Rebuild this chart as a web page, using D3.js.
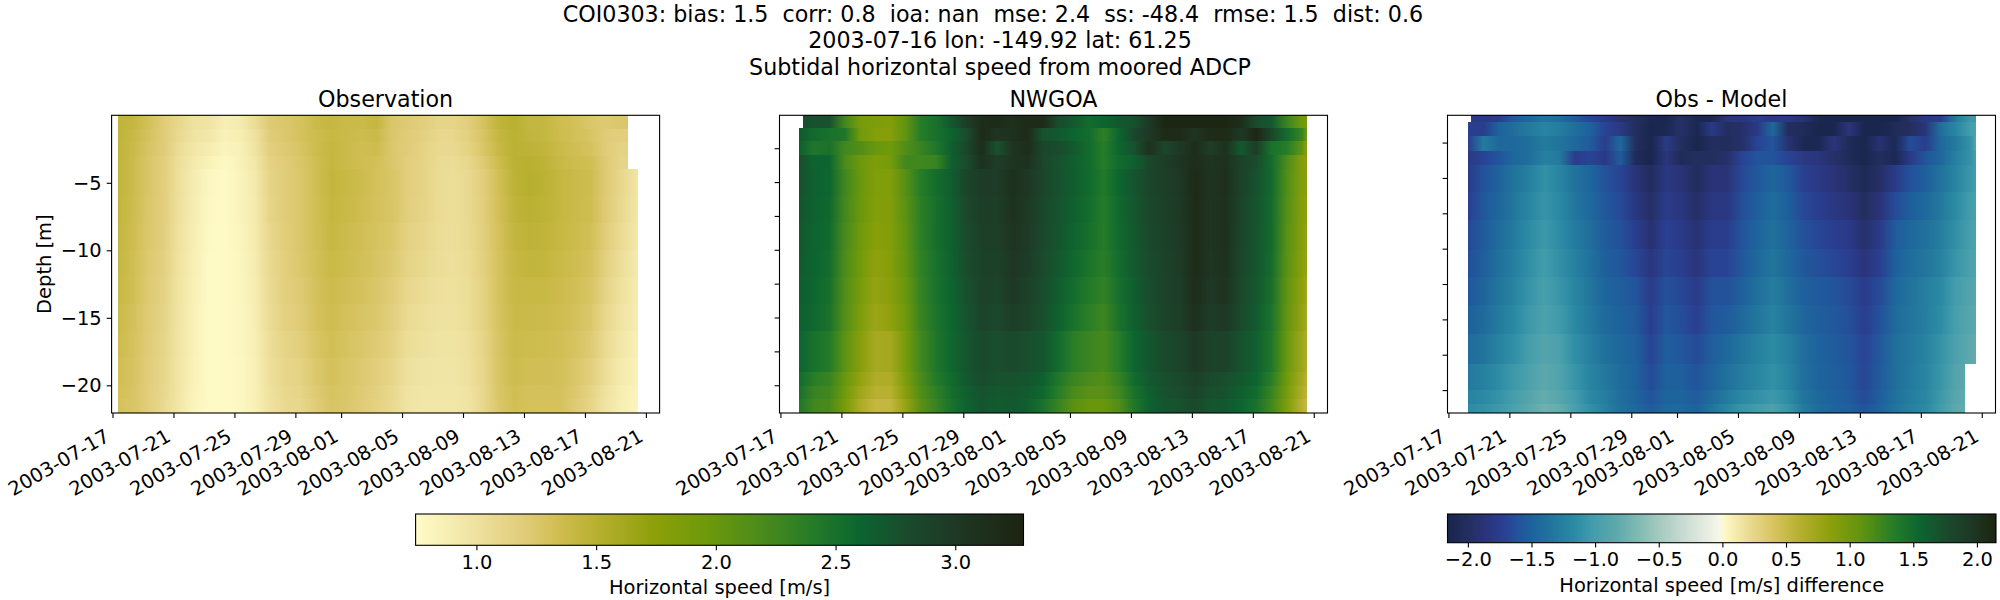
<!DOCTYPE html>
<html><head><meta charset="utf-8"><script src="https://cdn.jsdelivr.net/npm/d3@7"></script>
<style>html,body{margin:0;padding:0;background:#fff}text{font-family:"DejaVu Sans",sans-serif;fill:#000;white-space:pre}</style></head>
<body><svg id="c" width="2000" height="600"></svg>
<script>
const suptitleLines = ["COI0303: bias: 1.5  corr: 0.8  ioa: nan  mse: 2.4  ss: -48.4  rmse: 1.5  dist: 0.6  ","2003-07-16 lon: -149.92 lat: 61.25","Subtidal horizontal speed from moored ADCP"];
const panelTitles = ["Observation","NWGOA","Obs - Model"];
const dateTicks = ["2003-07-17","2003-07-21","2003-07-25","2003-07-29","2003-08-01","2003-08-05","2003-08-09","2003-08-13","2003-08-17","2003-08-21"];
const depthTicks = [-5,-10,-15,-20];
const depthTicksFine = [-2.5,-5,-7.5,-10,-12.5,-15,-17.5,-20];
const speedTicks = [1.0,1.5,2.0,2.5,3.0];
const diffTicks = [-2,-1.5,-1,-0.5,0,0.5,1,1.5,2];

// time of each column: days since 2003-07-17
const obsTimes = [0.35,1.35,2.35,3.35,4.35,5.35,6.35,7.35,8.35,9.35,10.35,11.35,12.35,13.35,14.35,15.35,16.35,17.35,18.35,19.35,20.35,21.35,22.35,23.35,24.35,25.35,26.35,27.35,28.35,29.35,30.35,31.35,32.35,33.35,34.35,34.5];
const modelTimes = [1.22,2.22,3.22,4.22,5.22,6.22,7.22,8.22,9.22,10.22,11.22,12.22,13.22,14.22,15.22,16.22,17.22,18.22,19.22,20.22,21.22,22.22,23.22,24.22,25.22,26.22,27.22,28.22,29.22,30.22,31.22,32.22,33.22,34.22,34.55];
const diffTimes = [1.29,2.29,3.29,4.29,5.29,6.29,7.29,8.29,9.29,10.29,11.29,12.29,13.29,14.29,15.29,16.29,17.29,18.29,19.29,20.29,21.29,22.29,23.29,24.29,25.29,26.29,27.29,28.29,29.29,30.29,31.29,32.29,33.29,34.29,34.6];

// depth bands (top,bottom) in m and the time extent of each band
const obsBands = [[0,1],[1,2],[2,3],[3,4],[4,6],[6,8],[8,10],[10,12],[12,14],[14,16],[16,18],[18,20],[20,21],[21,22.05]];
const obsExtent = [[0.35,33.8],[0.35,33.8],[0.35,33.8],[0.35,33.8],[0.35,34.5],[0.35,34.5],[0.35,34.5],[0.35,34.5],[0.35,34.5],[0.35,34.5],[0.35,34.5],[0.35,34.5],[0.35,34.5],[0.35,34.5]];
const modelBands = [[0,1.03],[1.03,2],[2,3.03],[3.03,4],[4,6],[6,8],[8,10],[10,12],[12,14],[14,16],[16,19.05],[19.05,20.05],[20.05,21.05],[21.05,22.05]];
const modelExtent = [[1.48,34.55],[1.22,34.55],[1.22,34.55],[1.22,34.55],[1.22,34.55],[1.22,34.55],[1.22,34.55],[1.22,34.55],[1.22,34.55],[1.22,34.55],[1.22,34.55],[1.22,34.55],[1.22,34.55],[1.22,34.55]];
const diffBands = [[0.57,1.07],[1.07,2.05],[2.05,3.08],[3.08,4.07],[4.07,6],[6,8],[8,10],[10,12],[12,14],[14,16],[16,18.13],[18.13,20],[20,21],[21,21.62]];
const diffExtent = [[1.49,34.6],[1.29,34.6],[1.29,34.6],[1.29,34.6],[1.29,34.6],[1.29,34.6],[1.29,34.6],[1.29,34.6],[1.29,34.6],[1.29,34.6],[1.29,34.6],[1.29,33.9],[1.29,33.9],[1.29,33.9]];

const obsSpeed = [
[1.45,1.42,1.32,1.2,1.1,1.0,0.98,0.88,0.9,1.05,1.22,1.25,1.3,1.38,1.42,1.38,1.38,1.42,1.25,1.22,1.18,1.12,1.12,1.18,1.3,1.45,1.5,1.42,1.42,1.35,1.32,1.25,1.22,1.25,1.25,1.25],
[1.45,1.4,1.3,1.2,1.08,0.98,0.95,0.85,0.88,1.0,1.2,1.24,1.3,1.36,1.4,1.38,1.36,1.38,1.25,1.2,1.16,1.1,1.1,1.16,1.28,1.42,1.48,1.44,1.42,1.36,1.32,1.28,1.2,1.18,1.18,1.18],
[1.45,1.38,1.28,1.2,1.05,0.95,0.9,0.82,0.85,0.98,1.18,1.22,1.28,1.36,1.42,1.38,1.34,1.36,1.24,1.2,1.14,1.08,1.08,1.14,1.26,1.4,1.48,1.46,1.44,1.38,1.34,1.3,1.2,1.14,1.14,1.14],
[1.45,1.37,1.26,1.18,1.03,0.92,0.84,0.78,0.84,0.95,1.15,1.2,1.26,1.34,1.42,1.38,1.34,1.32,1.25,1.18,1.14,1.07,1.05,1.1,1.22,1.36,1.48,1.5,1.46,1.4,1.36,1.34,1.22,1.12,1.12,1.12],
[1.45,1.37,1.26,1.18,1.02,0.9,0.79,0.76,0.82,0.93,1.13,1.2,1.25,1.34,1.43,1.4,1.36,1.31,1.27,1.18,1.14,1.06,1.04,1.08,1.19,1.33,1.47,1.51,1.48,1.42,1.38,1.36,1.22,1.1,0.98,0.96],
[1.44,1.36,1.25,1.18,1.01,0.89,0.78,0.76,0.82,0.92,1.12,1.2,1.25,1.33,1.42,1.39,1.35,1.3,1.27,1.17,1.13,1.06,1.04,1.08,1.18,1.32,1.45,1.49,1.47,1.42,1.38,1.35,1.21,1.09,0.97,0.95],
[1.43,1.35,1.24,1.17,1.0,0.88,0.77,0.76,0.81,0.91,1.1,1.19,1.25,1.33,1.41,1.37,1.33,1.29,1.25,1.15,1.11,1.05,1.03,1.07,1.17,1.31,1.43,1.46,1.45,1.41,1.37,1.33,1.19,1.07,0.95,0.93],
[1.42,1.34,1.23,1.16,0.99,0.87,0.76,0.76,0.8,0.9,1.08,1.18,1.24,1.32,1.39,1.36,1.32,1.28,1.23,1.13,1.09,1.04,1.02,1.06,1.16,1.3,1.41,1.44,1.43,1.39,1.35,1.31,1.16,1.04,0.93,0.91],
[1.41,1.33,1.22,1.15,0.98,0.86,0.76,0.76,0.8,0.89,1.07,1.17,1.22,1.31,1.37,1.33,1.3,1.26,1.2,1.1,1.06,1.02,1.01,1.05,1.15,1.3,1.4,1.41,1.4,1.37,1.33,1.28,1.13,1.01,0.91,0.89],
[1.39,1.31,1.21,1.13,0.97,0.85,0.76,0.76,0.79,0.88,1.06,1.16,1.2,1.3,1.35,1.31,1.28,1.24,1.17,1.07,1.03,1.0,1.0,1.04,1.14,1.29,1.38,1.38,1.37,1.35,1.31,1.25,1.1,0.98,0.9,0.88],
[1.37,1.3,1.2,1.12,0.97,0.85,0.76,0.76,0.79,0.87,1.04,1.13,1.17,1.27,1.33,1.29,1.25,1.21,1.15,1.04,1.01,0.98,0.98,1.02,1.12,1.28,1.37,1.36,1.35,1.33,1.29,1.22,1.07,0.95,0.87,0.86],
[1.34,1.29,1.19,1.11,0.96,0.84,0.76,0.76,0.78,0.86,1.03,1.11,1.14,1.24,1.31,1.27,1.23,1.18,1.12,1.01,0.98,0.97,0.97,1.01,1.11,1.27,1.36,1.33,1.33,1.32,1.26,1.18,1.04,0.92,0.85,0.83],
[1.32,1.28,1.18,1.1,0.96,0.83,0.76,0.76,0.78,0.86,1.01,1.09,1.12,1.22,1.29,1.26,1.21,1.16,1.09,0.99,0.96,0.96,0.96,0.99,1.1,1.26,1.34,1.31,1.31,1.31,1.24,1.14,1.0,0.89,0.83,0.81],
[1.3,1.27,1.18,1.08,0.95,0.82,0.76,0.76,0.78,0.86,1.0,1.08,1.1,1.2,1.28,1.25,1.2,1.15,1.08,0.98,0.95,0.95,0.95,0.98,1.1,1.25,1.33,1.3,1.3,1.3,1.22,1.12,0.98,0.88,0.82,0.8]];

const modelSpeed = [
[2.8,2.75,2.75,2.25,1.9,1.85,1.82,2.05,2.4,2.5,2.7,2.95,3.15,3.2,3.1,3.2,3.2,2.8,2.7,2.55,2.6,2.7,2.75,3.0,3.25,3.25,3.25,3.25,3.25,3.15,2.8,2.7,2.3,1.95,1.9],
[2.7,2.55,2.5,2.45,1.95,1.8,1.8,2.05,2.4,2.5,2.6,2.8,3.2,3.05,3.1,3.2,2.75,2.7,2.6,2.55,2.35,2.6,2.85,3.0,3.2,3.2,3.05,3.2,3.2,3.0,3.25,2.85,2.55,2.3,1.95],
[2.65,2.45,2.5,2.25,2.15,2.0,1.95,2.15,2.3,2.45,2.65,2.85,3.15,2.75,3.05,3.15,2.85,2.8,2.7,2.55,2.4,2.6,2.75,3.1,2.85,3.0,3.15,2.95,3.1,2.7,2.95,2.5,2.4,2.05,1.75],
[2.8,2.6,2.6,2.2,1.98,1.85,1.9,2.25,2.25,2.3,2.65,2.8,3.1,2.95,3.05,3.1,2.85,2.75,2.65,2.55,2.4,2.55,2.65,2.85,2.95,3.05,3.15,3.05,3.1,2.9,2.8,2.55,2.2,1.8,1.75],
[2.76,2.63,2.59,2.26,2.0,1.83,1.83,2.12,2.4,2.53,2.66,2.87,2.97,2.97,3.11,3.01,2.86,2.76,2.66,2.56,2.43,2.59,2.73,2.86,2.93,3.01,3.2,3.06,3.13,2.89,2.76,2.56,2.16,1.81,1.76],
[2.74,2.62,2.57,2.24,1.99,1.81,1.82,2.09,2.37,2.51,2.64,2.84,2.95,2.94,3.09,2.99,2.84,2.74,2.64,2.54,2.41,2.57,2.71,2.84,2.92,2.99,3.2,3.05,3.12,2.87,2.74,2.55,2.14,1.8,1.74],
[2.71,2.61,2.56,2.21,1.96,1.77,1.82,2.06,2.36,2.51,2.63,2.81,2.93,2.93,3.06,2.98,2.83,2.73,2.61,2.51,2.41,2.56,2.7,2.83,2.91,2.98,3.2,3.05,3.12,2.86,2.73,2.55,2.11,1.79,1.71],
[2.69,2.6,2.54,2.19,1.94,1.73,1.8,2.04,2.34,2.5,2.62,2.79,2.91,2.91,3.03,2.96,2.81,2.71,2.58,2.48,2.38,2.54,2.69,2.81,2.9,2.97,3.19,3.03,3.1,2.85,2.72,2.54,2.09,1.77,1.69],
[2.66,2.59,2.51,2.16,1.9,1.7,1.77,2.0,2.32,2.49,2.61,2.76,2.89,2.87,3.0,2.92,2.79,2.67,2.54,2.43,2.33,2.51,2.66,2.79,2.89,2.96,3.16,3.0,3.07,2.83,2.71,2.51,2.06,1.74,1.64],
[2.64,2.57,2.49,2.14,1.86,1.66,1.73,1.96,2.29,2.47,2.59,2.74,2.87,2.83,2.94,2.88,2.77,2.63,2.5,2.37,2.27,2.49,2.64,2.77,2.87,2.94,3.12,2.96,3.02,2.81,2.69,2.49,2.04,1.7,1.6],
[2.6,2.5,2.42,2.08,1.8,1.6,1.62,1.9,2.25,2.45,2.58,2.72,2.82,2.78,2.82,2.78,2.72,2.55,2.38,2.28,2.22,2.4,2.6,2.72,2.82,2.88,3.0,2.9,2.9,2.75,2.65,2.45,2.0,1.65,1.55],
[2.55,2.38,2.3,2.0,1.72,1.55,1.55,1.85,2.2,2.42,2.55,2.7,2.8,2.75,2.75,2.72,2.65,2.45,2.28,2.2,2.15,2.32,2.55,2.7,2.78,2.82,2.92,2.82,2.78,2.7,2.6,2.38,1.95,1.6,1.5],
[2.5,2.3,2.25,1.95,1.65,1.5,1.5,1.78,2.15,2.35,2.52,2.65,2.75,2.7,2.72,2.68,2.58,2.4,2.2,2.1,2.1,2.25,2.5,2.65,2.75,2.8,2.88,2.78,2.75,2.65,2.55,2.3,1.9,1.55,1.45],
[2.45,2.25,2.2,1.9,1.58,1.42,1.42,1.7,2.1,2.3,2.5,2.62,2.72,2.68,2.7,2.65,2.5,2.3,2.1,2.0,2.0,2.15,2.45,2.62,2.72,2.75,2.82,2.72,2.7,2.6,2.5,2.25,1.85,1.5,1.4]];

const diffSpeed = [
[-1.78,-1.8,-1.75,-1.55,-1.45,-1.35,-1.4,-1.55,-1.68,-1.78,-1.9,-2.0,-2.12,-2.12,-1.95,-2.12,-2.1,-1.85,-1.85,-1.75,-1.8,-1.8,-1.9,-2.12,-2.15,-2.15,-2.15,-2.15,-2.15,-1.95,-1.8,-1.75,-1.3,-1.05,-1.05],
[-1.72,-1.75,-1.5,-1.4,-1.3,-1.22,-1.28,-1.4,-1.5,-1.7,-1.8,-2.0,-2.15,-2.1,-1.95,-2.13,-1.8,-2.0,-1.95,-1.8,-1.45,-2.0,-2.05,-2.15,-2.15,-1.85,-2.15,-2.15,-2.05,-2.0,-1.85,-1.4,-1.2,-1.0,-0.95],
[-1.75,-1.3,-1.45,-1.45,-1.4,-1.3,-1.35,-1.45,-1.55,-1.75,-1.45,-2.0,-2.15,-1.8,-2.0,-2.15,-2.0,-2.02,-1.95,-1.7,-1.6,-1.9,-2.1,-2.1,-1.85,-2.05,-2.15,-1.9,-2.1,-1.65,-1.75,-1.45,-1.3,-1.1,-0.9],
[-1.8,-1.7,-1.6,-1.45,-1.4,-1.25,-1.3,-1.75,-1.7,-1.8,-1.55,-2.05,-2.15,-1.85,-2.05,-2.0,-2.0,-1.95,-1.7,-1.6,-1.6,-1.7,-1.8,-1.85,-1.95,-2.05,-2.15,-2.0,-2.1,-1.8,-1.6,-1.45,-1.25,-1.1,-1.0],
[-1.76,-1.61,-1.51,-1.36,-1.26,-1.12,-1.21,-1.37,-1.47,-1.62,-1.7,-1.87,-2.02,-1.82,-1.88,-2.03,-1.87,-1.87,-1.67,-1.57,-1.47,-1.57,-1.72,-1.8,-1.87,-1.97,-2.08,-1.97,-1.78,-1.62,-1.52,-1.37,-1.22,-1.06,-1.01],
[-1.72,-1.58,-1.47,-1.33,-1.21,-1.09,-1.18,-1.33,-1.44,-1.58,-1.66,-1.82,-1.97,-1.77,-1.83,-1.97,-1.82,-1.82,-1.63,-1.52,-1.42,-1.52,-1.67,-1.74,-1.81,-1.87,-2.0,-1.87,-1.66,-1.53,-1.45,-1.32,-1.16,-1.01,-0.97],
[-1.67,-1.55,-1.42,-1.3,-1.16,-1.05,-1.15,-1.29,-1.4,-1.55,-1.62,-1.75,-1.91,-1.72,-1.78,-1.9,-1.75,-1.75,-1.6,-1.48,-1.38,-1.48,-1.62,-1.68,-1.74,-1.78,-1.94,-1.78,-1.56,-1.45,-1.38,-1.28,-1.12,-0.98,-0.95],
[-1.63,-1.53,-1.38,-1.27,-1.13,-1.02,-1.12,-1.25,-1.37,-1.52,-1.58,-1.68,-1.84,-1.68,-1.74,-1.85,-1.7,-1.7,-1.57,-1.45,-1.34,-1.45,-1.58,-1.63,-1.68,-1.73,-1.86,-1.73,-1.52,-1.41,-1.34,-1.24,-1.08,-0.95,-0.92],
[-1.58,-1.48,-1.34,-1.23,-1.09,-0.98,-1.08,-1.21,-1.33,-1.48,-1.53,-1.6,-1.77,-1.62,-1.68,-1.77,-1.62,-1.62,-1.51,-1.39,-1.28,-1.39,-1.52,-1.56,-1.6,-1.66,-1.77,-1.66,-1.46,-1.36,-1.28,-1.18,-1.01,-0.9,-0.87],
[-1.51,-1.43,-1.3,-1.19,-1.05,-0.95,-1.03,-1.18,-1.31,-1.44,-1.5,-1.56,-1.74,-1.58,-1.64,-1.73,-1.58,-1.55,-1.44,-1.33,-1.24,-1.34,-1.47,-1.53,-1.57,-1.63,-1.74,-1.62,-1.43,-1.34,-1.27,-1.15,-0.99,-0.87,-0.84],
[-1.42,-1.36,-1.23,-1.13,-1.0,-0.9,-0.96,-1.13,-1.26,-1.38,-1.46,-1.51,-1.7,-1.53,-1.58,-1.66,-1.52,-1.45,-1.34,-1.25,-1.16,-1.26,-1.4,-1.49,-1.54,-1.59,-1.7,-1.57,-1.4,-1.31,-1.24,-1.1,-0.95,-0.83,-0.81],
[-1.3,-1.25,-1.15,-1.05,-0.95,-0.85,-0.92,-1.08,-1.22,-1.32,-1.42,-1.5,-1.65,-1.5,-1.52,-1.6,-1.48,-1.38,-1.28,-1.2,-1.12,-1.22,-1.38,-1.48,-1.52,-1.58,-1.68,-1.55,-1.4,-1.3,-1.22,-1.08,-0.9,-0.82,-0.82],
[-1.22,-1.18,-1.1,-1.0,-0.9,-0.8,-0.88,-1.02,-1.18,-1.28,-1.4,-1.48,-1.6,-1.48,-1.48,-1.55,-1.42,-1.3,-1.18,-1.12,-1.05,-1.15,-1.35,-1.45,-1.5,-1.55,-1.65,-1.52,-1.38,-1.28,-1.2,-1.05,-0.88,-0.8,-0.8],
[-1.15,-1.12,-1.05,-0.95,-0.85,-0.75,-0.8,-0.98,-1.12,-1.25,-1.38,-1.45,-1.55,-1.45,-1.45,-1.5,-1.35,-1.2,-1.08,-1.02,-0.95,-1.08,-1.3,-1.42,-1.48,-1.52,-1.6,-1.5,-1.35,-1.25,-1.18,-1.02,-0.85,-0.78,-0.78]];

// colormap anchors, cmocean-delta look
const speedCmapValues = [0.746,1.0,1.2,1.35,1.5,1.75,1.95,2.2,2.4,2.6,2.8,3.0,3.3];
const speedCmapColors = ["#fffbc8","#efe2a0","#e0cc78","#cfbd50","#b8b030","#8c9f0a","#6f9a0a","#4a8a1c","#257c28","#0c6530","#1a4b2d","#1e3825","#1c2410"];
const diffCmapValues = [-2.16,-2.0,-1.87,-1.72,-1.6,-1.5,-1.35,-1.17,-1.0,-0.83,-0.65,-0.5,-0.33,-0.15,-0.02,0.02,0.2,0.4,0.6,0.85,1.1,1.35,1.55,1.75,1.95,2.15];
const diffCmapColors = ["#18254d","#232e5f","#2a3378","#2a3f92","#22549c","#1d629c","#21749c","#2a8aa4","#459eac","#5ea9ac","#83bbb4","#a4c9bf","#c4d9cf","#e3eadf","#f7f7ea","#fdf8c6","#ecdc95","#d8c460","#b8b030","#8c9f0a","#5f930f","#257c28","#0c6530","#1a4b2d","#1e3825","#1c2410"];

const speedColor = d3.scaleLinear().domain(speedCmapValues).range(speedCmapColors).clamp(true);
const diffColor = d3.scaleLinear().domain(diffCmapValues).range(diffCmapColors).clamp(true);

const svg = d3.select("#c");
const defs = svg.append("defs");
const fs = 19.44, fsTitle = 22.2;
const day0 = new Date(Date.UTC(2003,6,17));
const toDate = t => new Date(day0.getTime()+t*864e5);
const parse = s => new Date(s+"T00:00:00Z");

suptitleLines.forEach((s,i)=>svg.append("text").attr("x",1000).attr("y",[22,48,75][i]).attr("text-anchor","middle").attr("font-size",fsTitle).text(s));

const panels = [
 {x:111.6,title:panelTitles[0],times:obsTimes,bands:obsBands,ext:obsExtent,vals:obsSpeed,col:speedColor,dom:[0,-22.05],ticks:depthTicks},
 {x:779.5,title:panelTitles[1],times:modelTimes,bands:modelBands,ext:modelExtent,vals:modelSpeed,col:speedColor,dom:[-0.07,-22.05],ticks:depthTicksFine},
 {x:1447.5,title:panelTitles[2],times:diffTimes,bands:diffBands,ext:diffExtent,vals:diffSpeed,col:diffColor,dom:[-0.57,-21.62],ticks:depthTicksFine}
];
const W=548,T=115.3,B=413;
panels.forEach((p,pi)=>{
  const g = svg.append("g");
  const x = d3.scaleUtc().domain([toDate(-0.06),toDate(35.9)]).range([p.x,p.x+W]);
  const y = d3.scaleLinear().domain(p.dom).range([T,B]).clamp(true);
  p.bands.forEach((b,i)=>{
    const id=`g${pi}_${i}`;
    const x0=x(toDate(p.times[0])),x1=x(toDate(p.times[p.times.length-1]));
    const lg=defs.append("linearGradient").attr("id",id).attr("gradientUnits","userSpaceOnUse").attr("x1",x0).attr("x2",x1).attr("y1",0).attr("y2",0);
    p.times.forEach((t,j)=>lg.append("stop").attr("offset",(x(toDate(t))-x0)/(x1-x0)).attr("stop-color",p.col(p.vals[i][j])));
    const a=x(toDate(p.ext[i][0])),e=x(toDate(p.ext[i][1]));
    g.append("rect").attr("x",a).attr("width",e-a).attr("y",y(-b[0])).attr("height",y(-b[1])-y(-b[0])+0.3).attr("fill",`url(#${id})`).attr("shape-rendering","crispEdges");
  });
  g.append("rect").attr("x",p.x).attr("y",T).attr("width",W).attr("height",B-T).attr("fill","none").attr("stroke","#000").attr("stroke-width",1.1);
  const xa=d3.axisBottom(x).tickValues(dateTicks.map(parse)).tickFormat(d3.utcFormat("%Y-%m-%d")).tickSize(4.9).tickPadding(5);
  const gx=g.append("g").attr("transform",`translate(0,${B})`).call(xa);
  gx.select(".domain").remove();
  gx.selectAll("line").attr("stroke","#000").attr("stroke-width",1.1);
  gx.selectAll("text").attr("font-size",fs).attr("text-anchor","end").attr("dy",0).attr("y",0).attr("x",0)
    .attr("transform","translate(-2,27) rotate(-30)");
  const ya=d3.axisLeft(y).tickValues(p.ticks).tickFormat(pi?"":d=>"\u2212"+Math.abs(d)).tickSize(4.9).tickPadding(5);
  const gy=g.append("g").attr("transform",`translate(${p.x},0)`).call(ya);
  gy.select(".domain").remove();
  gy.selectAll("line").attr("stroke","#000").attr("stroke-width",1.1);
  gy.selectAll("text").attr("font-size",fs);
  g.append("text").attr("x",p.x+W/2).attr("y",107).attr("text-anchor","middle").attr("font-size",fsTitle).text(p.title);
  if(!pi) g.append("text").attr("transform",`translate(51,${(T+B)/2}) rotate(-90)`).attr("text-anchor","middle").attr("font-size",fs).text("Depth [m]");
});

function colorbar(id,x0,x1,y0,y1,dom,cmapV,color,ticks,fmt,label){
  const s=d3.scaleLinear().domain(dom).range([x0,x1]);
  const lg=defs.append("linearGradient").attr("id",id).attr("gradientUnits","userSpaceOnUse").attr("x1",x0).attr("x2",x1).attr("y1",0).attr("y2",0);
  cmapV.forEach(v=>lg.append("stop").attr("offset",(s(v)-x0)/(x1-x0)).attr("stop-color",color(v)));
  svg.append("rect").attr("x",x0).attr("y",y0).attr("width",x1-x0).attr("height",y1-y0).attr("fill",`url(#${id})`).attr("stroke","#000").attr("stroke-width",1.1);
  const gx=svg.append("g").attr("transform",`translate(0,${y1})`).call(d3.axisBottom(s).tickValues(ticks).tickFormat(fmt).tickSize(4.9).tickPadding(5));
  gx.select(".domain").remove();
  gx.selectAll("line").attr("stroke","#000").attr("stroke-width",1.1);
  gx.selectAll("text").attr("font-size",fs);
  svg.append("text").attr("x",(x0+x1)/2).attr("y",y1+49).attr("text-anchor","middle").attr("font-size",fs).text(label);
}
const f1=d=>d3.format(".1f")(Math.abs(d));
colorbar("cb1",415.6,1023.5,514,545.3,[0.746,3.285],speedCmapValues,speedColor,speedTicks,f1,"Horizontal speed [m/s]");
colorbar("cb2",1447.5,1996,514,542.7,[-2.16,2.15],diffCmapValues,diffColor,diffTicks,d=>(d<0?"\u2212":"")+f1(d),"Horizontal speed [m/s] difference");
</script></body></html>
